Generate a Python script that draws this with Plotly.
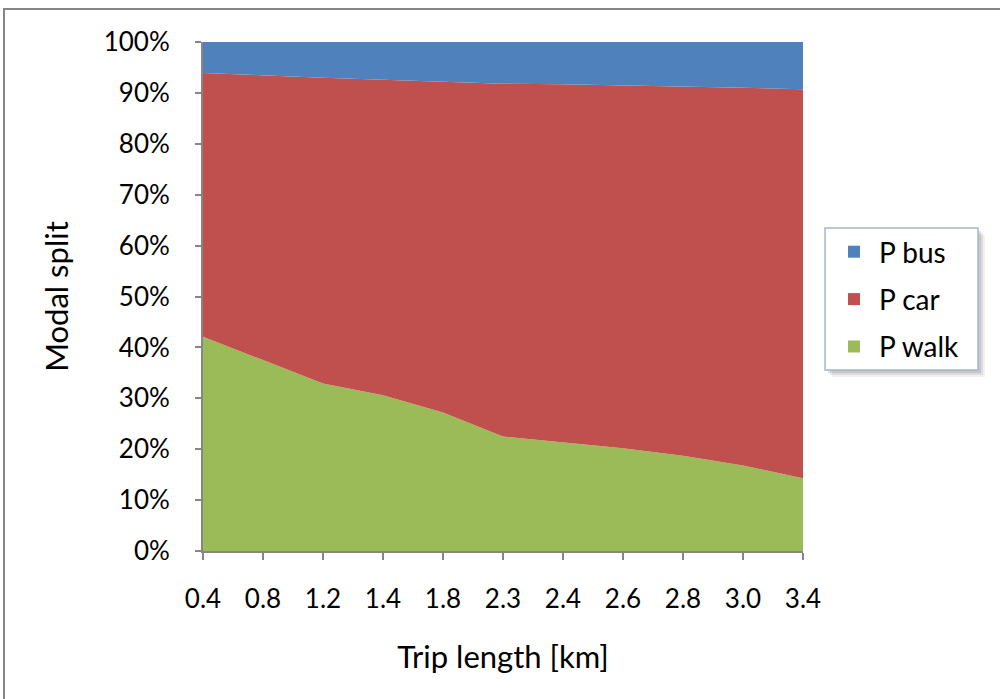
import plotly.graph_objects as go

trip_length = ["0.4", "0.8", "1.2", "1.4", "1.8", "2.3", "2.4", "2.6", "2.8", "3.0", "3.4"]
p_walk = [42.1, 37.5, 32.9, 30.6, 27.2, 22.5, 21.3, 20.2, 18.7, 16.8, 14.3]
p_car_top = [93.9, 93.4, 93.0, 92.6, 92.2, 91.8, 91.7, 91.5, 91.3, 91.0, 90.7]
p_car = [round(t - w, 2) for t, w in zip(p_car_top, p_walk)]
p_bus = [round(100 - t, 2) for t in p_car_top]

series = [("P walk", p_walk, "#9BBB59"), ("P car", p_car, "#C0504D"), ("P bus", p_bus, "#4F81BD")]

FONT = "Lato"
fig = go.Figure()
for name, vals, col in series:
    fig.add_trace(go.Scatter(x=trip_length, y=vals, stackgroup="one", mode="lines",
                             line=dict(width=0, color=col), fillcolor=col,
                             name=name, showlegend=False))
for name, vals, col in reversed(series):
    fig.add_trace(go.Scatter(x=[None], y=[None], mode="markers", name=name,
                             marker=dict(symbol="square", size=18, color=col),
                             legendgroup=name, showlegend=True))

L, R, T, B = 203, 803, 42, 551
W, H = 1000, 699
pw, ph = R - L, B - T
def px(x): return (x - L) / pw
def py(y): return (B - y) / ph

fig.update_layout(
    width=W, height=H,
    margin=dict(l=L, r=W - R, t=T, b=H - B),
    paper_bgcolor="white", plot_bgcolor="white",
    font=dict(family=FONT, size=26, color="black"),
    xaxis=dict(type="category", range=[0, len(trip_length) - 1],
               showline=True, linecolor="#868686", linewidth=2,
               ticks="outside", ticklen=7, tickcolor="#868686", tickwidth=2,
               showgrid=False, zeroline=False, ticklabelstandoff=17,
               title=dict(text="Trip length [km]", standoff=33)),
    yaxis=dict(range=[0, 100], dtick=10, ticksuffix="%",
               showline=True, linecolor="#868686", linewidth=2,
               ticks="outside", ticklen=6, tickcolor="#868686", tickwidth=2,
               showgrid=False, zeroline=False, ticklabelstandoff=20,
               title=dict(text="Modal split", standoff=26)),
    legend=dict(x=px(829), y=py(227), xanchor="left", yanchor="top",
                bgcolor="rgba(0,0,0,0)", borderwidth=0,
                traceorder="grouped", tracegroupgap=8, itemwidth=40,
                font=dict(size=28), itemsizing="constant"),
    showlegend=True,
)

# legend shadow and box
for off, op in [(7, 0.10), (5, 0.15), (3, 0.2)]:
    fig.add_shape(type="rect", xref="paper", yref="paper", layer="above",
                  x0=px(825 + off), x1=px(978 + off), y0=py(228 + off), y1=py(370 + off),
                  line=dict(width=0), fillcolor=f"rgba(110,110,110,{op})")
fig.add_shape(type="rect", xref="paper", yref="paper", layer="above",
              x0=px(825), x1=px(978), y0=py(228), y1=py(370),
              line=dict(color="#A7B6CE", width=1.5), fillcolor="white")

# outer chart frame
fig.add_shape(type="rect", xref="paper", yref="paper",
              x0=px(4), x1=px(1010), y0=py(9), y1=py(710),
              line=dict(color="#868686", width=2), fillcolor="rgba(0,0,0,0)")

fig.write_html("out.html")
